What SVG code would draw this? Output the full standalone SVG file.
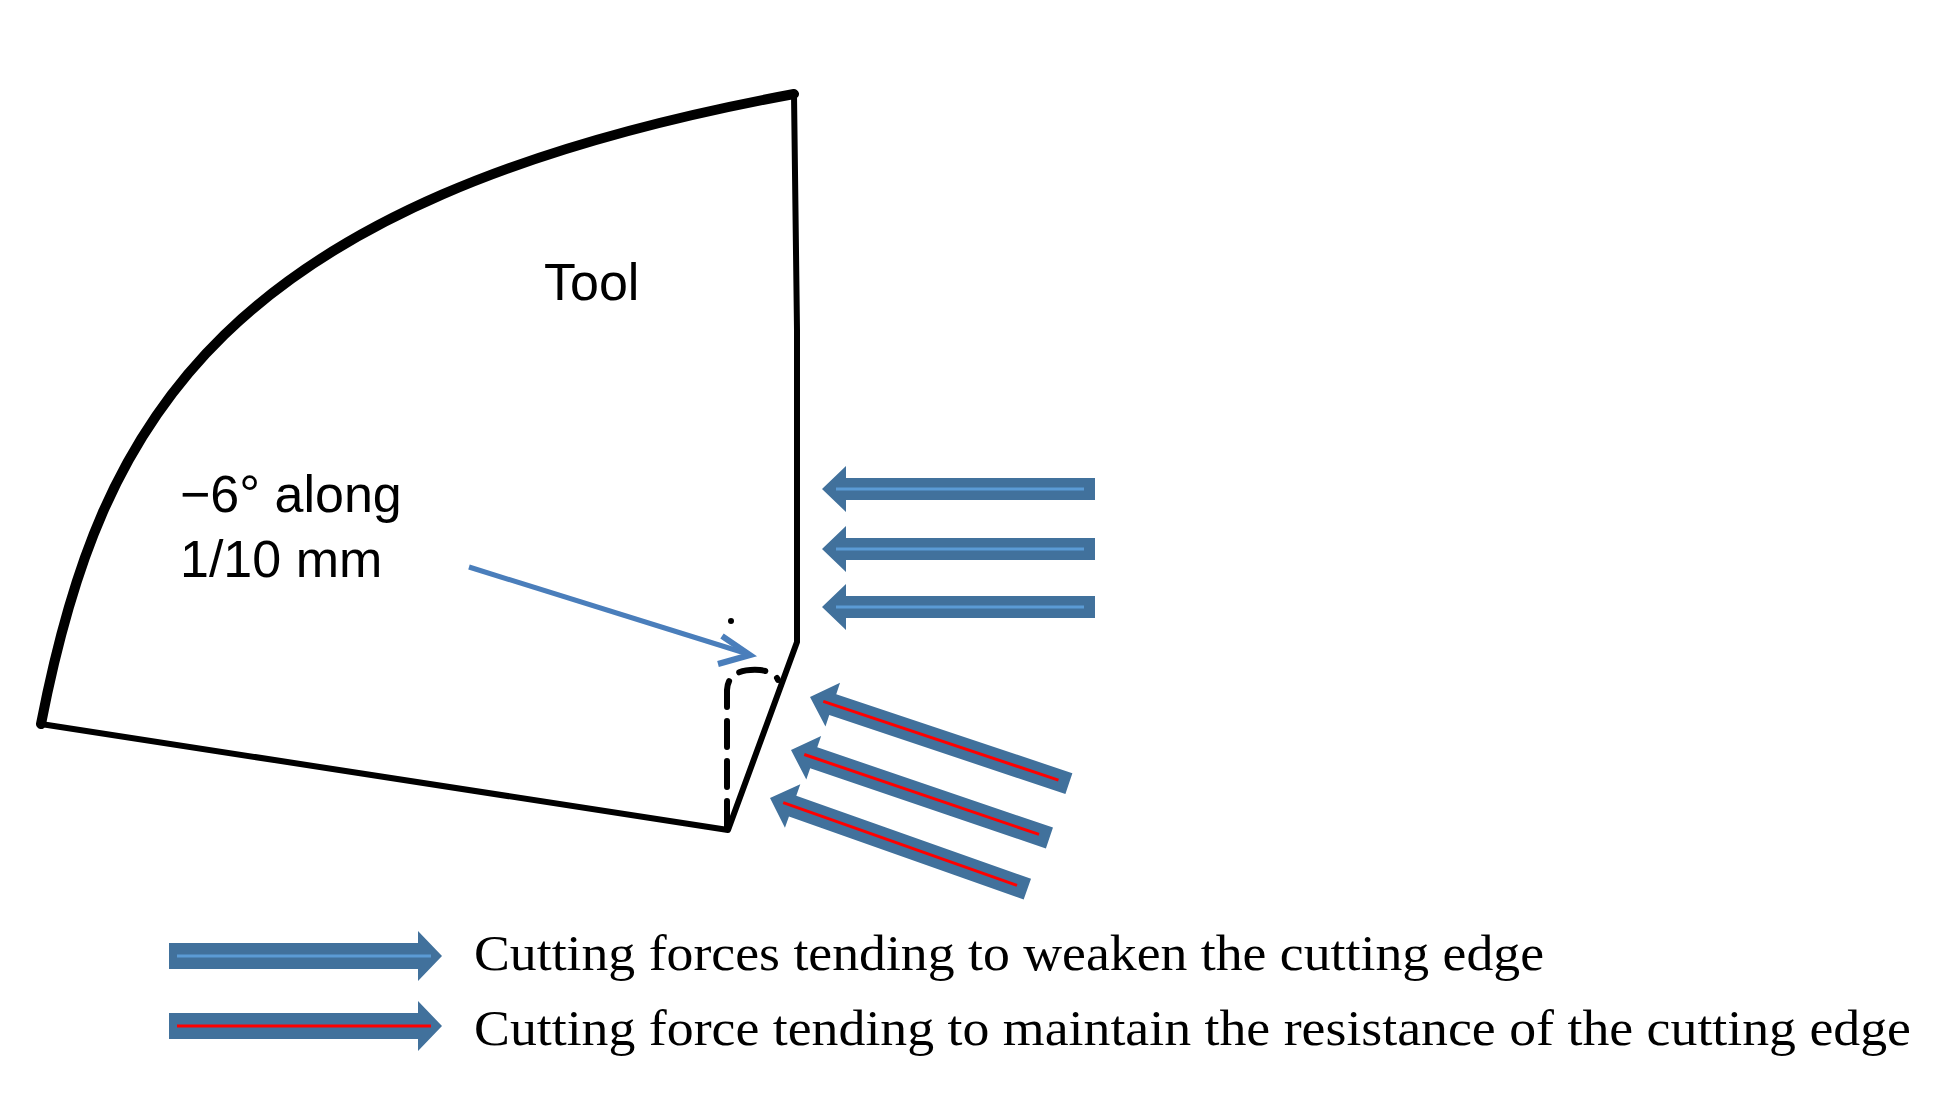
<svg xmlns="http://www.w3.org/2000/svg" width="1957" height="1107" viewBox="0 0 1957 1107">
<style>
.ol{fill:none;stroke:#000;stroke-linejoin:round;stroke-linecap:round}
.ar{fill:#41719c}
.bl{stroke:#5b9bd5;stroke-width:3}
.rd{stroke:#ff0000;stroke-width:3}
.sans{font-family:"Liberation Sans",Arial,sans-serif;font-size:52px;fill:#000}
.serif{font-family:"Liberation Serif","Times New Roman",serif;font-size:50px;fill:#000}
</style>
<defs>
<path id="la" d="M0,0 L24,-23 L24,-11 L273,-11 L273,11 L24,11 L24,23 Z"/>
<path id="ra" d="M273,0 L249,-25 L249,-13 L0,-13 L0,13 L249,13 L249,25 Z"/>
</defs>
<g id="tool">
<path class="ol" d="M41,724 C100,420 220,200 794,94" stroke-width="10"/>
<path class="ol" d="M794,94 L797,330 L797,642 L728,830 L41,724" stroke-width="6"/>
<path class="ol" d="M727,827 L727,690 Q728,668 760,670 Q775,672 778,680" stroke-width="6" stroke-dasharray="26,14"/>
<circle cx="731" cy="621" r="3" fill="#000"/>
<text class="sans" x="544" y="300">Tool</text>
<text class="sans" x="180" y="512">−6° along</text>
<text class="sans" x="180" y="577">1/10 mm</text>
</g>
<g id="pointer">
<line x1="469" y1="567" x2="748" y2="654" stroke="#4a7ebb" stroke-width="5"/>
<path d="M722,636 L750,655 L718,664" fill="none" stroke="#4a7ebb" stroke-width="6"/>
</g>
<g id="forces">
<g transform="translate(822,489)"><use href="#la" class="ar"/><line x1="14" y1="0" x2="262" y2="0" class="bl"/></g>
<g transform="translate(822,549)"><use href="#la" class="ar"/><line x1="14" y1="0" x2="262" y2="0" class="bl"/></g>
<g transform="translate(822,607)"><use href="#la" class="ar"/><line x1="14" y1="0" x2="262" y2="0" class="bl"/></g>
<g transform="translate(810,697) rotate(18.5)"><use href="#la" class="ar"/><line x1="14" y1="0" x2="262" y2="0" class="rd"/></g>
<g transform="translate(791,750) rotate(18.8)"><use href="#la" class="ar"/><line x1="14" y1="0" x2="262" y2="0" class="rd"/></g>
<g transform="translate(770,798) rotate(19.5)"><use href="#la" class="ar"/><line x1="14" y1="0" x2="262" y2="0" class="rd"/></g>
</g>
<g id="legend">
<g transform="translate(169,956)"><use href="#ra" class="ar"/><line x1="8" y1="0" x2="262" y2="0" class="bl"/></g>
<g transform="translate(169,1026)"><use href="#ra" class="ar"/><line x1="8" y1="0" x2="262" y2="0" class="rd"/></g>
<text class="serif" x="474" y="970" textLength="1070" lengthAdjust="spacingAndGlyphs">Cutting forces tending to weaken the cutting edge</text>
<text class="serif" x="474" y="1045" textLength="1437" lengthAdjust="spacingAndGlyphs">Cutting force tending to maintain the resistance of the cutting edge</text>
</g>
</svg>
